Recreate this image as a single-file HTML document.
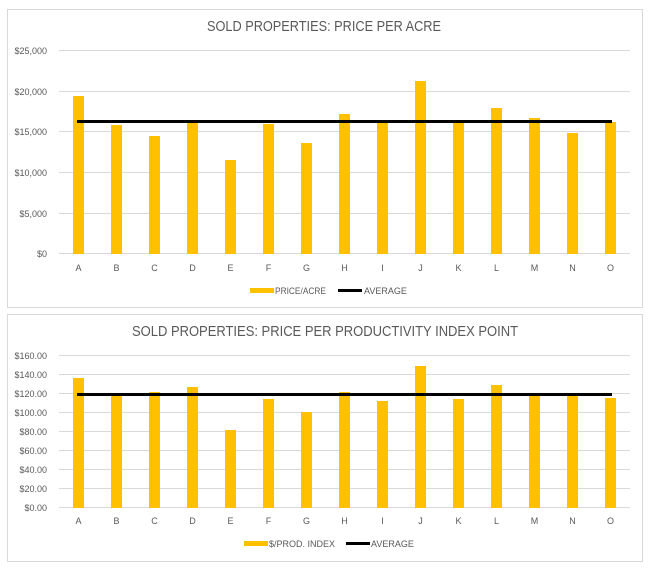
<!DOCTYPE html>
<html><head><style>body{margin:0;background:#fff}svg text{font-family:"Liberation Sans",sans-serif;fill:#595959}</style></head><body>
<svg width="655" height="570" xmlns="http://www.w3.org/2000/svg">
<rect x="7.5" y="9.5" width="635" height="298" fill="#fff" stroke="#d9d9d9"/>
<rect x="7.5" y="314.5" width="635" height="247" fill="#fff" stroke="#d9d9d9"/>
<text x="207" y="31" font-size="15" textLength="234" lengthAdjust="spacingAndGlyphs">SOLD PROPERTIES: PRICE PER ACRE</text>
<text x="132" y="336" font-size="15" textLength="386" lengthAdjust="spacingAndGlyphs">SOLD PROPERTIES: PRICE PER PRODUCTIVITY INDEX  POINT</text>
<g id="g1" stroke="#d9d9d9" stroke-width="1">
<line x1="59" x2="630" y1="50.5" y2="50.5"/><line x1="59" x2="630" y1="91.5" y2="91.5"/><line x1="59" x2="630" y1="131.5" y2="131.5"/><line x1="59" x2="630" y1="172.5" y2="172.5"/><line x1="59" x2="630" y1="213.5" y2="213.5"/><line x1="59" x2="630" y1="253.5" y2="253.5"/>
</g>
<g font-size="9" text-anchor="end">
<text x="47" y="54">$25,000</text><text x="47" y="95">$20,000</text><text x="47" y="135">$15,000</text><text x="47" y="176">$10,000</text><text x="47" y="217">$5,000</text><text x="47" y="257">$0</text>
</g>
<g fill="#ffc000">
<rect x="73" y="96" width="11" height="158"/><rect x="111" y="125" width="11" height="129"/><rect x="149" y="136" width="11" height="118"/><rect x="187" y="122" width="11" height="132"/><rect x="225" y="160" width="11" height="94"/><rect x="263" y="124" width="11" height="130"/><rect x="301" y="143" width="11" height="111"/><rect x="339" y="114" width="11" height="140"/><rect x="377" y="121" width="11" height="133"/><rect x="415" y="81" width="11" height="173"/><rect x="453" y="122" width="11" height="132"/><rect x="491" y="108" width="11" height="146"/><rect x="529" y="118" width="11" height="136"/><rect x="567" y="133" width="11" height="121"/><rect x="605" y="122" width="11" height="132"/>
</g>
<line x1="77" x2="612" y1="121.5" y2="121.5" stroke="#000" stroke-width="3"/>
<g font-size="9" text-anchor="middle">
<text x="78.5" y="271">A</text><text x="116.5" y="271">B</text><text x="154.5" y="271">C</text><text x="192.5" y="271">D</text><text x="230.5" y="271">E</text><text x="268.5" y="271">F</text><text x="306.5" y="271">G</text><text x="344.5" y="271">H</text><text x="382.5" y="271">I</text><text x="420.5" y="271">J</text><text x="458.5" y="271">K</text><text x="496.5" y="271">L</text><text x="534.5" y="271">M</text><text x="572.5" y="271">N</text><text x="610.5" y="271">O</text>
</g>
<rect x="250" y="288" width="24" height="5" fill="#ffc000"/><text x="275" y="294" font-size="9" textLength="51" lengthAdjust="spacingAndGlyphs">PRICE/ACRE</text>
<line x1="338" x2="362" y1="290.5" y2="290.5" stroke="#000" stroke-width="3"/><text x="364" y="294" font-size="9">AVERAGE</text>

<g stroke="#d9d9d9">
<line x1="59" x2="630" y1="355.5" y2="355.5"/><line x1="59" x2="630" y1="374.5" y2="374.5"/><line x1="59" x2="630" y1="393.5" y2="393.5"/><line x1="59" x2="630" y1="412.5" y2="412.5"/><line x1="59" x2="630" y1="431.5" y2="431.5"/><line x1="59" x2="630" y1="450.5" y2="450.5"/><line x1="59" x2="630" y1="469.5" y2="469.5"/><line x1="59" x2="630" y1="488.5" y2="488.5"/><line x1="59" x2="630" y1="507.5" y2="507.5"/>
</g>
<g font-size="9" text-anchor="end">
<text x="47" y="359">$160.00</text><text x="47" y="378">$140.00</text><text x="47" y="397">$120.00</text><text x="47" y="416">$100.00</text><text x="47" y="435">$80.00</text><text x="47" y="454">$60.00</text><text x="47" y="473">$40.00</text><text x="47" y="492">$20.00</text><text x="47" y="511">$0.00</text>
</g>
<g fill="#ffc000">
<rect x="73" y="378" width="11" height="130"/><rect x="111" y="394" width="11" height="114"/><rect x="149" y="392" width="11" height="116"/><rect x="187" y="387" width="11" height="121"/><rect x="225" y="430" width="11" height="78"/><rect x="263" y="399" width="11" height="109"/><rect x="301" y="412" width="11" height="96"/><rect x="339" y="392" width="11" height="116"/><rect x="377" y="401" width="11" height="107"/><rect x="415" y="366" width="11" height="142"/><rect x="453" y="399" width="11" height="109"/><rect x="491" y="385" width="11" height="123"/><rect x="529" y="394" width="11" height="114"/><rect x="567" y="394" width="11" height="114"/><rect x="605" y="398" width="11" height="110"/>
</g>
<line x1="77" x2="612" y1="394.5" y2="394.5" stroke="#000" stroke-width="3"/>
<g font-size="9" text-anchor="middle">
<text x="78.5" y="524">A</text><text x="116.5" y="524">B</text><text x="154.5" y="524">C</text><text x="192.5" y="524">D</text><text x="230.5" y="524">E</text><text x="268.5" y="524">F</text><text x="306.5" y="524">G</text><text x="344.5" y="524">H</text><text x="382.5" y="524">I</text><text x="420.5" y="524">J</text><text x="458.5" y="524">K</text><text x="496.5" y="524">L</text><text x="534.5" y="524">M</text><text x="572.5" y="524">N</text><text x="610.5" y="524">O</text>
</g>
<rect x="244" y="541" width="24" height="5" fill="#ffc000"/><text x="269" y="547" font-size="9">$/PROD. INDEX</text>
<line x1="346" x2="370" y1="543.5" y2="543.5" stroke="#000" stroke-width="3"/><text x="371" y="547" font-size="9">AVERAGE</text>
</svg>
</body></html>
